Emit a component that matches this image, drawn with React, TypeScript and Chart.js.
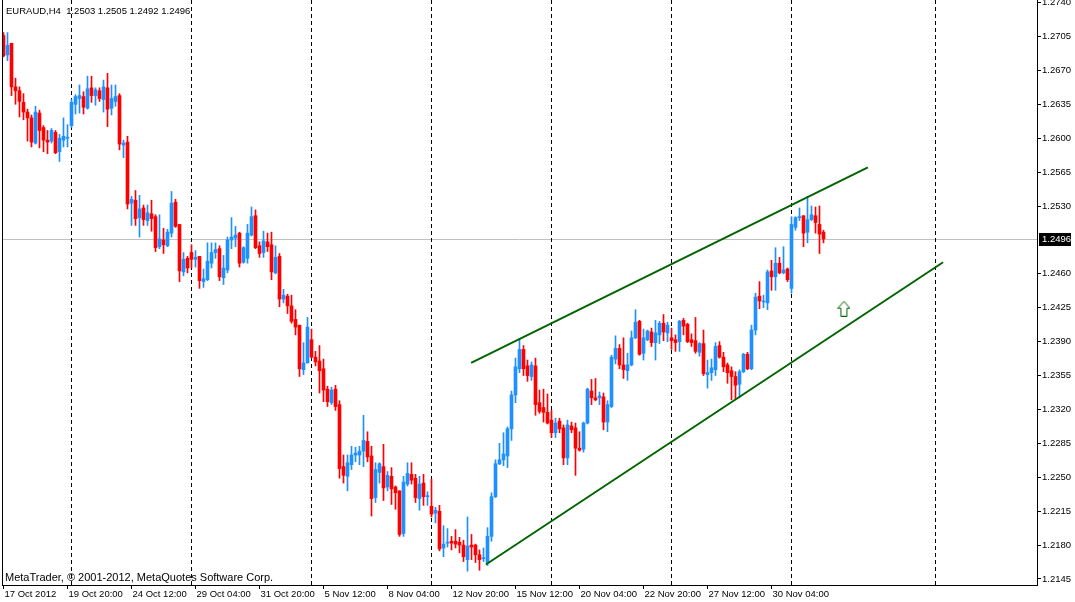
import { useEffect, useRef } from 'react';
import { Chart, registerables } from 'chart.js';

Chart.register(...registerables);

const symbolTitle = 'EURAUD,H4  1.2503 1.2505 1.2492 1.2496';
const copyright = 'MetaTrader, © 2001-2012, MetaQuotes Software Corp.';

// H4 candles, 17 Oct 2012 04:00 .. 3 Dec 2012
const openPrices = [
  1.2706, 1.2686, 1.2698, 1.2653, 1.2649, 1.2637, 1.2627, 1.2621, 1.2595, 1.2626,
  1.2611, 1.2598, 1.2597, 1.2606, 1.2586, 1.2598, 1.2600, 1.2613, 1.2635, 1.2641,
  1.2643, 1.2631, 1.2652, 1.2644, 1.2649, 1.2640, 1.2652, 1.2631, 1.2638, 1.2644,
  1.2593, 1.2596, 1.2533, 1.2536, 1.2518, 1.2528, 1.2515, 1.2522, 1.2519, 1.2488,
  1.2495, 1.2489, 1.2502, 1.2534, 1.2511, 1.2462, 1.2476, 1.2482, 1.2475, 1.2478,
  1.2452, 1.2454, 1.2471, 1.2482, 1.2486, 1.2456, 1.2464, 1.2495, 1.2497, 1.2502,
  1.2472, 1.2476, 1.2500, 1.2520, 1.2489, 1.2482, 1.2493, 1.2490, 1.2461, 1.2478,
  1.2434, 1.2437, 1.2427, 1.2413, 1.2407, 1.2361, 1.2368, 1.2392, 1.2374, 1.2370,
  1.2362, 1.2341, 1.2327, 1.2341, 1.2325, 1.2261, 1.2251, 1.2263, 1.2273, 1.2273,
  1.2277, 1.2287, 1.2272, 1.2229, 1.2255, 1.2261, 1.2240, 1.2251, 1.2240, 1.2236,
  1.2192, 1.2243, 1.2253, 1.2249, 1.2228, 1.2244, 1.2230, 1.2220, 1.2213, 1.2215,
  1.2177, 1.2182, 1.2184, 1.2184, 1.2183, 1.2180, 1.2165, 1.2180, 1.2180, 1.2170,
  1.2166, 1.2162, 1.2189, 1.2230, 1.2264, 1.2268, 1.2272, 1.2300, 1.2335, 1.2362,
  1.2382, 1.2365, 1.2354, 1.2365, 1.2327, 1.2322, 1.2317, 1.2309, 1.2296, 1.2308,
  1.2301, 1.2270, 1.2303, 1.2301, 1.2280, 1.2279, 1.2306, 1.2339, 1.2332, 1.2332,
  1.2333, 1.2307, 1.2323, 1.2372, 1.2383, 1.2366, 1.2360, 1.2366, 1.2394, 1.2411,
  1.2378, 1.2392, 1.2400, 1.2389, 1.2397, 1.2409, 1.2399, 1.2394, 1.2392, 1.2390,
  1.2412, 1.2408, 1.2392, 1.2391, 1.2379, 1.2388, 1.2356, 1.2358, 1.2361, 1.2386,
  1.2374, 1.2366, 1.2360, 1.2354, 1.2346, 1.2359, 1.2377, 1.2362, 1.2402, 1.2437,
  1.2431, 1.2430, 1.2463, 1.2457, 1.2471, 1.2461, 1.2465, 1.2445, 1.2508, 1.2518,
  1.2520, 1.2503, 1.2516, 1.2520, 1.2511, 1.2503,
];

const highPrices = [
  1.2709, 1.2709, 1.2698, 1.2662, 1.2653, 1.2646, 1.2630, 1.2624, 1.2633, 1.2629,
  1.2613, 1.2608, 1.2610, 1.2608, 1.2604, 1.2621, 1.2614, 1.2640, 1.2645, 1.2655,
  1.2648, 1.2664, 1.2664, 1.2652, 1.2652, 1.2660, 1.2667, 1.2655, 1.2655, 1.2646,
  1.2598, 1.2602, 1.2540, 1.2546, 1.2541, 1.2531, 1.2531, 1.2536, 1.2521, 1.2521,
  1.2507, 1.2506, 1.2545, 1.2537, 1.2511, 1.2482, 1.2478, 1.2490, 1.2484, 1.2478,
  1.2465, 1.2492, 1.2492, 1.2492, 1.2489, 1.2479, 1.2498, 1.2518, 1.2509, 1.2503,
  1.2488, 1.2511, 1.2529, 1.2526, 1.2493, 1.2504, 1.2502, 1.2503, 1.2489, 1.2481,
  1.2444, 1.2439, 1.2438, 1.2423, 1.2407, 1.2389, 1.2415, 1.2403, 1.2380, 1.2386,
  1.2372, 1.2344, 1.2343, 1.2345, 1.2329, 1.2273, 1.2273, 1.2282, 1.2281, 1.2282,
  1.2314, 1.2297, 1.2282, 1.2265, 1.2265, 1.2284, 1.2256, 1.2260, 1.2241, 1.2236,
  1.2251, 1.2265, 1.2265, 1.2253, 1.2251, 1.2253, 1.2235, 1.2248, 1.2219, 1.2221,
  1.2200, 1.2197, 1.2189, 1.2196, 1.2188, 1.2185, 1.2209, 1.2191, 1.2181, 1.2175,
  1.2177, 1.2198, 1.2234, 1.2268, 1.2285, 1.2296, 1.2302, 1.2339, 1.2373, 1.2393,
  1.2386, 1.2371, 1.2369, 1.2373, 1.2340, 1.2341, 1.2336, 1.2319, 1.2311, 1.2311,
  1.2304, 1.2309, 1.2307, 1.2306, 1.2297, 1.2307, 1.2342, 1.2351, 1.2352, 1.2338,
  1.2337, 1.2329, 1.2376, 1.2396, 1.2387, 1.2394, 1.2378, 1.2401, 1.2423, 1.2412,
  1.2403, 1.2402, 1.2404, 1.2412, 1.2411, 1.2418, 1.2410, 1.2404, 1.2397, 1.2412,
  1.2414, 1.2409, 1.2398, 1.2415, 1.2389, 1.2402, 1.2371, 1.2372, 1.2389, 1.2390,
  1.2379, 1.2368, 1.2364, 1.2359, 1.2361, 1.2378, 1.2379, 1.2407, 1.2440, 1.2452,
  1.2438, 1.2464, 1.2474, 1.2487, 1.2477, 1.2488, 1.2466, 1.2519, 1.2519, 1.2528,
  1.2520, 1.2540, 1.2530, 1.2529, 1.2530, 1.2505,
];

const lowPrices = [
  1.2684, 1.2680, 1.2644, 1.2635, 1.2622, 1.2619, 1.2597, 1.2591, 1.2594, 1.2590,
  1.2586, 1.2584, 1.2595, 1.2584, 1.2576, 1.2591, 1.2591, 1.2611, 1.2625, 1.2626,
  1.2625, 1.2630, 1.2637, 1.2634, 1.2638, 1.2627, 1.2612, 1.2624, 1.2633, 1.2588,
  1.2580, 1.2527, 1.2510, 1.2510, 1.2498, 1.2510, 1.2510, 1.2504, 1.2483, 1.2486,
  1.2481, 1.2488, 1.2498, 1.2508, 1.2452, 1.2458, 1.2461, 1.2466, 1.2467, 1.2445,
  1.2446, 1.2453, 1.2466, 1.2476, 1.2453, 1.2449, 1.2461, 1.2486, 1.2488, 1.2467,
  1.2471, 1.2471, 1.2499, 1.2486, 1.2477, 1.2477, 1.2483, 1.2454, 1.2460, 1.2426,
  1.2430, 1.2419, 1.2409, 1.2397, 1.2354, 1.2356, 1.2368, 1.2373, 1.2365, 1.2337,
  1.2328, 1.2323, 1.2325, 1.2319, 1.2249, 1.2244, 1.2236, 1.2258, 1.2266, 1.2263,
  1.2261, 1.2266, 1.2210, 1.2224, 1.2244, 1.2226, 1.2236, 1.2222, 1.2217, 1.2189,
  1.2189, 1.2241, 1.2243, 1.2224, 1.2216, 1.2221, 1.2221, 1.2209, 1.2203, 1.2174,
  1.2168, 1.2178, 1.2175, 1.2177, 1.2172, 1.2163, 1.2153, 1.2165, 1.2162, 1.2154,
  1.2163, 1.2159, 1.2184, 1.2229, 1.2263, 1.2262, 1.2260, 1.2288, 1.2327, 1.2358,
  1.2355, 1.2349, 1.2350, 1.2314, 1.2316, 1.2307, 1.2305, 1.2291, 1.2291, 1.2296,
  1.2263, 1.2263, 1.2296, 1.2252, 1.2277, 1.2276, 1.2305, 1.2325, 1.2329, 1.2325,
  1.2299, 1.2297, 1.2322, 1.2367, 1.2362, 1.2352, 1.2350, 1.2365, 1.2393, 1.2376,
  1.2371, 1.2391, 1.2385, 1.2371, 1.2388, 1.2391, 1.2390, 1.2382, 1.2380, 1.2380,
  1.2397, 1.2389, 1.2385, 1.2378, 1.2375, 1.2355, 1.2342, 1.2350, 1.2355, 1.2373,
  1.2359, 1.2347, 1.2330, 1.2330, 1.2332, 1.2358, 1.2361, 1.2361, 1.2397, 1.2424,
  1.2425, 1.2423, 1.2443, 1.2443, 1.2460, 1.2460, 1.2452, 1.2440, 1.2505, 1.2515,
  1.2488, 1.2492, 1.2515, 1.2502, 1.2481, 1.2492,
];

const closePrices = [
  1.2685, 1.2696, 1.2653, 1.2649, 1.2638, 1.2627, 1.2621, 1.2596, 1.2627, 1.2608,
  1.2598, 1.2596, 1.2608, 1.2585, 1.2600, 1.2602, 1.2601, 1.2637, 1.2643, 1.2644,
  1.2632, 1.2651, 1.2644, 1.2650, 1.2641, 1.2653, 1.2630, 1.2641, 1.2643, 1.2594,
  1.2595, 1.2532, 1.2537, 1.2517, 1.2527, 1.2516, 1.2523, 1.2517, 1.2487, 1.2496,
  1.2490, 1.2503, 1.2533, 1.2509, 1.2463, 1.2475, 1.2466, 1.2475, 1.2477, 1.2453,
  1.2455, 1.2473, 1.2482, 1.2485, 1.2457, 1.2466, 1.2495, 1.2498, 1.2500, 1.2471,
  1.2487, 1.2502, 1.2519, 1.2487, 1.2481, 1.2494, 1.2488, 1.2462, 1.2477, 1.2434,
  1.2438, 1.2427, 1.2411, 1.2405, 1.2362, 1.2368, 1.2405, 1.2374, 1.2369, 1.2360,
  1.2340, 1.2328, 1.2340, 1.2323, 1.2259, 1.2252, 1.2265, 1.2273, 1.2275, 1.2277,
  1.2288, 1.2271, 1.2228, 1.2258, 1.2264, 1.2239, 1.2252, 1.2238, 1.2234, 1.2191,
  1.2245, 1.2254, 1.2247, 1.2229, 1.2243, 1.2230, 1.2231, 1.2212, 1.2216, 1.2176,
  1.2181, 1.2183, 1.2182, 1.2181, 1.2180, 1.2168, 1.2179, 1.2178, 1.2170, 1.2165,
  1.2167, 1.2189, 1.2230, 1.2264, 1.2268, 1.2274, 1.2300, 1.2335, 1.2364, 1.2382,
  1.2362, 1.2355, 1.2366, 1.2325, 1.2318, 1.2317, 1.2306, 1.2296, 1.2306, 1.2300,
  1.2270, 1.2304, 1.2299, 1.2280, 1.2278, 1.2306, 1.2341, 1.2332, 1.2330, 1.2334,
  1.2307, 1.2325, 1.2374, 1.2383, 1.2366, 1.2361, 1.2366, 1.2394, 1.2410, 1.2377,
  1.2394, 1.2401, 1.2389, 1.2399, 1.2409, 1.2400, 1.2407, 1.2391, 1.2389, 1.2411,
  1.2406, 1.2390, 1.2389, 1.2380, 1.2388, 1.2357, 1.2358, 1.2363, 1.2385, 1.2374,
  1.2364, 1.2358, 1.2354, 1.2345, 1.2359, 1.2377, 1.2362, 1.2402, 1.2436, 1.2432,
  1.2432, 1.2462, 1.2457, 1.2471, 1.2461, 1.2464, 1.2454, 1.2511, 1.2518, 1.2519,
  1.2502, 1.2516, 1.2521, 1.2513, 1.2501, 1.2496,
];

// time axis: a label every 16 bars
const timeTickIdx = [0, 16, 32, 48, 64, 80, 96, 112, 128, 144, 160, 176, 192];
const timeLabels = [
  '17 Oct 2012', '19 Oct 20:00', '24 Oct 12:00', '29 Oct 04:00', '31 Oct 20:00',
  '5 Nov 12:00', '8 Nov 04:00', '12 Nov 20:00', '15 Nov 12:00', '20 Nov 04:00',
  '22 Nov 20:00', '27 Nov 12:00', '30 Nov 04:00',
];

// price axis (1.2495 is covered by the bid label)
const priceTicks = [
  1.2145, 1.218, 1.2215, 1.225, 1.2285, 1.232, 1.2355, 1.239, 1.2425, 1.246,
  1.253, 1.2565, 1.26, 1.2635, 1.267, 1.2705, 1.274,
];

// weekly period separators (bar index)
const weekSeparators = [17, 47, 77, 107, 137, 167, 197, 233];
const bidPrice = 1.2496;

// channel drawn on the chart (bar index, price)
const upperChannel = [
  { x: 116.9, y: 1.2368 },
  { x: 216.1, y: 1.257 },
];
const lowerChannel = [
  { x: 120.6, y: 1.216 },
  { x: 234.9, y: 1.2472 },
];
const arrowMark = [{ x: 210.1, y: 1.2424 }];

const BULL = '#1E90FF';
const BEAR = '#FF0000';
const LINE_GREEN = '#006400';
const FONT = 'Liberation Sans';

function makeArrow() {
  const c = document.createElement('canvas');
  c.width = 13;
  c.height = 16;
  const g = c.getContext('2d');
  if (!g) return c;
  g.beginPath();
  g.moveTo(6.5, 0.5);
  g.lineTo(12.5, 7.5);
  g.lineTo(9.5, 7.5);
  g.lineTo(9.5, 15.5);
  g.lineTo(3.5, 15.5);
  g.lineTo(3.5, 7.5);
  g.lineTo(0.5, 7.5);
  g.closePath();
  g.fillStyle = '#ffffff';
  g.fill();
  g.strokeStyle = LINE_GREEN;
  g.lineWidth = 1;
  g.stroke();
  return c;
}

const decorPlugin = {
  id: 'mtDecor',
  beforeDatasetsDraw(chart: any) {
    const { ctx, chartArea: a, scales } = chart;
    const x = scales.x;
    const y = scales.y;
    ctx.save();
    ctx.lineWidth = 1;

    // bid line
    const by = Math.round(y.getPixelForValue(bidPrice)) + 0.5;
    ctx.strokeStyle = '#c0c0c0';
    ctx.beginPath();
    ctx.moveTo(a.left, by);
    ctx.lineTo(a.right, by);
    ctx.stroke();

    // period separators
    ctx.strokeStyle = '#000000';
    ctx.setLineDash([4, 3]);
    weekSeparators.forEach((i) => {
      const px = Math.round(x.getPixelForValue(i) - 0.5) + 0.5;
      ctx.beginPath();
      ctx.moveTo(px, a.top);
      ctx.lineTo(px, a.bottom);
      ctx.stroke();
    });
    ctx.restore();
  },
  afterDraw(chart: any) {
    const { ctx, chartArea: a, scales } = chart;
    const y = scales.y;
    ctx.save();

    // left frame line
    ctx.strokeStyle = '#000000';
    ctx.lineWidth = 1;
    ctx.beginPath();
    ctx.moveTo(a.left + 0.5, a.top);
    ctx.lineTo(a.left + 0.5, a.bottom + 1);
    ctx.stroke();

    ctx.fillStyle = '#000000';
    ctx.textBaseline = 'alphabetic';
    ctx.textAlign = 'left';
    ctx.font = `9.5px "${FONT}"`;
    ctx.fillText(symbolTitle, 6, 14);
    ctx.font = `11px "${FONT}"`;
    ctx.fillText(copyright, 5, 581);

    // bid label on the price axis
    const byRaw = y.getPixelForValue(bidPrice);
    const top = Math.round(byRaw) - 6;
    ctx.fillStyle = '#000000';
    ctx.fillRect(a.right + 2, top, 32, 13);
    ctx.fillStyle = '#ffffff';
    ctx.font = `9.5px "${FONT}"`;
    ctx.textBaseline = 'middle';
    ctx.fillText(bidPrice.toFixed(4), a.right + 5, top + 6.5);
    ctx.restore();
  },
};

export default function App() {
  const chartRef = useRef<HTMLCanvasElement>(null);
  const chartInstanceRef = useRef<Chart | null>(null);

  useEffect(() => {
    if (!chartRef.current) return;
    if (chartInstanceRef.current) {
      chartInstanceRef.current.destroy();
    }
    const ctx = chartRef.current.getContext('2d');
    if (!ctx) return;

    const colors = closePrices.map((c, i) => (c >= openPrices[i] ? BULL : BEAR));
    const arrow = makeArrow();

    chartInstanceRef.current = new Chart(ctx, {
      type: 'bar',
      data: {
        datasets: [
          {
            type: 'bar',
            label: 'wick',
            data: highPrices.map((h, i) => ({ x: i, y: [lowPrices[i], h] })),
            backgroundColor: colors,
            borderWidth: 0,
            grouped: false,
            barThickness: 1,
            maxBarThickness: 1,
            categoryPercentage: 1,
            barPercentage: 1,
            order: 4,
          },
          {
            type: 'bar',
            label: 'body',
            data: openPrices.map((o, i) => ({ x: i, y: [o, closePrices[i]] })),
            backgroundColor: colors,
            borderWidth: 0,
            grouped: false,
            barThickness: 3,
            maxBarThickness: 3,
            categoryPercentage: 1,
            barPercentage: 1,
            minBarLength: 1,
            order: 3,
          },
          {
            type: 'line',
            label: 'upper',
            data: upperChannel,
            borderColor: LINE_GREEN,
            borderWidth: 2,
            pointRadius: 0,
            order: 2,
          },
          {
            type: 'line',
            label: 'lower',
            data: lowerChannel,
            borderColor: LINE_GREEN,
            borderWidth: 2,
            pointRadius: 0,
            order: 2,
          },
          {
            type: 'line',
            label: 'arrow',
            data: arrowMark,
            showLine: false,
            pointStyle: arrow,
            pointRadius: 6,
            order: 1,
          },
        ] as any,
      },
      options: {
        responsive: false,
        devicePixelRatio: 1,
        animation: false,
        events: [],
        layout: { autoPadding: false, padding: { left: 2, top: 0, right: 0, bottom: 0 } },
        plugins: {
          legend: { display: false },
          tooltip: { enabled: false },
        },
        scales: {
          x: {
            type: 'linear',
            min: -0.375,
            max: 258.375,
            offset: false,
            afterBuildTicks: (scale: any) => {
              scale.ticks = timeTickIdx.map((value) => ({ value }));
            },
            afterFit: (scale: any) => {
              scale.height = 17;
              scale.paddingLeft = 0;
              scale.paddingRight = 0;
            },
            ticks: {
              autoSkip: false,
              maxRotation: 0,
              minRotation: 0,
              align: 'start',
              labelOffset: 1,
              padding: 0,
              color: '#000000',
              font: { family: FONT, size: 9.5 },
              callback: (_v: any, index: number) => timeLabels[index],
            },
            grid: {
              display: true,
              drawOnChartArea: false,
              drawTicks: true,
              tickLength: 4,
              color: '#000000',
              offset: false,
            },
            border: { display: true, color: '#000000' },
          },
          y: {
            type: 'linear',
            position: 'right',
            min: 1.21388,
            max: 1.274268,
            afterBuildTicks: (scale: any) => {
              scale.ticks = priceTicks.map((value) => ({ value }));
            },
            afterFit: (scale: any) => {
              scale.width = 38;
              scale.paddingTop = 0;
              scale.paddingBottom = 0;
            },
            ticks: {
              padding: 1,
              color: '#000000',
              font: { family: FONT, size: 9.5 },
              callback: (v: any) => Number(v).toFixed(4),
            },
            grid: {
              display: true,
              drawOnChartArea: false,
              drawTicks: true,
              tickLength: 4,
              color: '#000000',
            },
            border: { display: true, color: '#000000' },
          },
        },
      } as any,
      plugins: [decorPlugin],
    });

    return () => {
      if (chartInstanceRef.current) {
        chartInstanceRef.current.destroy();
        chartInstanceRef.current = null;
      }
    };
  }, []);

  return (
    <div style={{ position: 'absolute', left: 0, top: 0, width: 1075, height: 602, background: '#ffffff' }}>
      <canvas ref={chartRef} width={1075} height={602} style={{ display: 'block' }} />
    </div>
  );
}
